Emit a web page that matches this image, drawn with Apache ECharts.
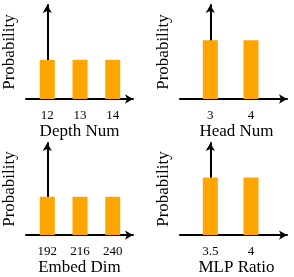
<!DOCTYPE html>
<html><head><meta charset="utf-8">
<script src="https://cdn.jsdelivr.net/npm/echarts@6/dist/echarts.min.js"></script>
<style>html,body{margin:0;padding:0;background:#fff}#c{width:294px;height:277px}</style>
</head><body><div id="c"></div>
<script>
const depthLabels = ['12', '13', '14'];
const depthProb = [0.333, 0.333, 0.333];
const headLabels = ['3', '4'];
const headProb = [0.5, 0.5];
const embedLabels = ['192', '216', '240'];
const embedProb = [0.333, 0.333, 0.333];
const mlpLabels = ['3.5', '4'];
const mlpProb = [0.5, 0.5];
const axisNames = ['Depth Num', 'Head Num', 'Embed Dim', 'MLP Ratio'];
const yName = 'Probability';

const panels = [
  {labels: depthLabels, probs: depthProb, name: axisNames[0]},
  {labels: headLabels, probs: headProb, name: axisNames[1]},
  {labels: embedLabels, probs: embedProb, name: axisNames[2]},
  {labels: mlpLabels, probs: mlpProb, name: axisNames[3]}
];
const grids = [
  {left: 25, top: 5, width: 108, height: 94},
  {left: 180, top: 5, width: 107, height: 94},
  {left: 25, top: 143, width: 108, height: 93},
  {left: 180, top: 143, width: 107, height: 94}
];
const font = 'Liberation Serif';
const axisLine = {show: true, symbol: ['none', 'arrow'], symbolSize: [7, 8], lineStyle: {color: '#000', width: 2}};

const option = {
  animation: false,
  backgroundColor: '#fff',
  grid: grids,
  xAxis: panels.map((p, i) => {
    const n = p.labels.length;
    return {
      type: 'value', gridIndex: i,
      min: n === 3 ? -0.65 : -0.745,
      max: n === 3 ? 2.62 : 1.885,
      axisLine: axisLine,
      axisTick: {show: false},
      splitLine: {show: false},
      axisLabel: {
        customValues: p.labels.map((_, k) => k),
        formatter: v => p.labels[Math.round(v)],
        fontFamily: font, fontSize: 13, color: '#000', margin: 10
      },
      name: p.name, nameLocation: 'middle', nameGap: 21,
      nameTextStyle: {fontFamily: font, fontSize: 17, color: '#000', verticalAlign: 'top',
        padding: n === 3 ? 0 : [0, 0, 0, 6]}
    };
  }),
  yAxis: panels.map((p, i) => ({
    type: 'value', gridIndex: i, min: 0, max: 0.8,
    axisLine: axisLine,
    axisTick: {show: false},
    splitLine: {show: false},
    axisLabel: {show: false},
    name: yName, nameLocation: 'middle', nameGap: 8,
    nameTextStyle: {fontFamily: font, fontSize: 17, color: '#000'}
  })),
  series: panels.map((p, i) => ({
    type: 'bar', xAxisIndex: i, yAxisIndex: i,
    barWidth: 15,
    itemStyle: {color: '#FFA500'},
    data: p.probs.map((v, k) => [k, v])
  }))
};
echarts.init(document.getElementById('c')).setOption(option);
</script></body></html>
